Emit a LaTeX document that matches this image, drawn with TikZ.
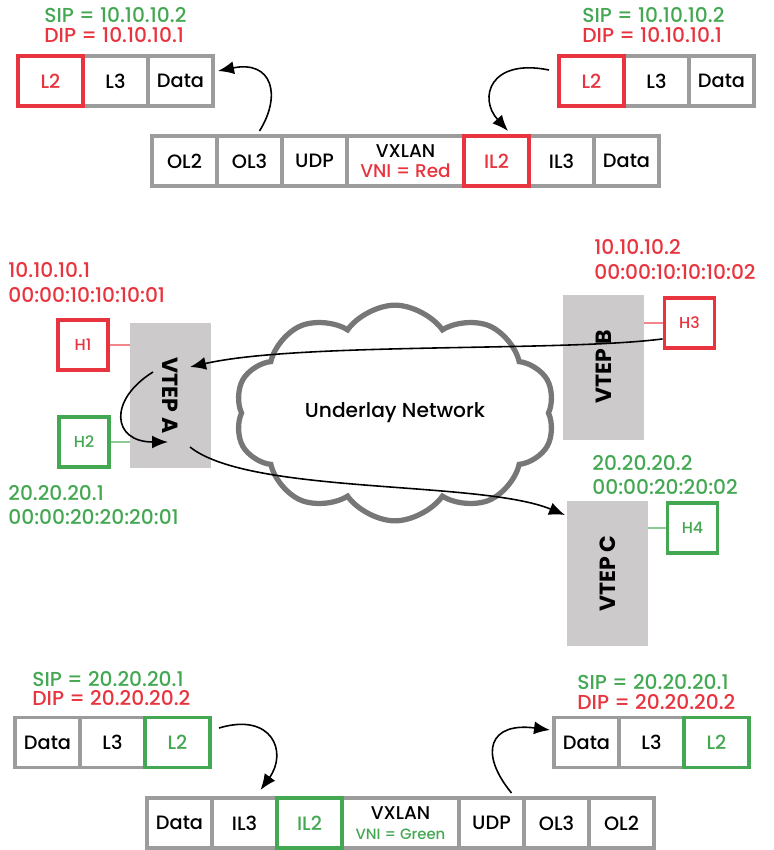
\documentclass[tikz,border=0pt]{standalone}
\usepackage{fontspec}
\setmainfont{Poppins}[UprightFont=* Medium, BoldFont=* Bold]
\usetikzlibrary{positioning,arrows.meta,shapes.symbols}

\definecolor{vxred}{HTML}{E8343E}
\definecolor{vxgreen}{HTML}{44A853}
\definecolor{cellgray}{HTML}{9C9C9C}
\definecolor{vtepgray}{HTML}{CCCACB}
\definecolor{cloudgray}{HTML}{777777}

\tikzset{
  cell/.style={draw=cellgray, line width=1.9pt, fill=white, minimum width=1.3cm, minimum height=1cm,
    inner sep=0pt, outer sep=0pt, font=\fontsize{11}{12}\selectfont},
  vxcell/.style={cell, minimum width=2.34cm, align=center, font=\fontsize{10.5}{10.5}\selectfont},
  redcell/.style={cell, draw=vxred, text=vxred},
  greencell/.style={cell, draw=vxgreen, text=vxgreen},
  host/.style={draw, line width=2.2pt, fill=white, minimum size=1cm, inner sep=0pt, font=\fontsize{9}{10}\selectfont},
  vtep/.style={fill=vtepgray, minimum width=2.9cm, minimum height=1.62cm, inner sep=0pt, font=\bfseries\fontsize{12.5}{14}\selectfont},
  addr/.style={anchor=west, inner sep=0pt, font=\fontsize{11.5}{12}\selectfont},
  hlink/.style={line width=1.3pt},
  flow/.style={-{Latex[length=3.2mm,width=2.6mm]}, line width=0.9pt},
}

\begin{document}
\begin{tikzpicture}[x=0.2mm,y=-0.2mm]
\useasboundingbox (0,0) rectangle (773,850);

% top left packet
\node[addr, text=vxgreen] (tlsip) at (44,15) {SIP = 10.10.10.2};
\node[addr, text=vxred] (tldip) at (44,35) {DIP = 10.10.10.1};
\node[cell] (tll3) at (115.5,81) {L3};
\node[cell, right=0pt of tll3] (tldata) {Data};
\node[redcell, left=0pt of tll3] (tll2) {L2};

% top right packet
\node[addr, text=vxgreen] (trsip) at (582,15) {SIP = 10.10.10.2};
\node[addr, text=vxred] (trdip) at (582,35) {DIP = 10.10.10.1};
\node[cell] (trl3) at (656.5,81) {L3};
\node[cell, right=0pt of trl3] (trdata) {Data};
\node[redcell, left=0pt of trl3] (trl2) {L2};

% top encapsulated packet
\node[cell] (tol2) at (184.5,161) {OL2};
\node[cell, right=0pt of tol2] (tol3) {OL3};
\node[cell, right=0pt of tol3] (toudp) {UDP};
\node[vxcell, right=0pt of toudp] (tovx) {VXLAN\\[1pt]\textcolor{vxred}{VNI = Red}};
\node[cell, right=0pt of tovx] (til2) {IL2};
\node[cell, right=0pt of til2] (til3) {IL3};
\node[cell, right=0pt of til3] (tidata) {Data};
\node[redcell] at (til2) (til2b) {IL2};

\draw[flow] ([xshift=2mm,yshift=1mm]tol3.north) .. controls (282,95) and (272,60) .. ([xshift=1mm,yshift=-3mm]tldata.north east);
\draw[flow] ([xshift=-2mm,yshift=2.2mm]trl2.west) .. controls (490,58) and (478,98) .. ([xshift=2.3mm,yshift=1mm]til2.north);

% underlay
\node[cloud, cloud puffs=10, cloud puff arc=110, aspect=1.5, draw=cloudgray, line width=3pt, fill=white,
  minimum width=6.4cm, minimum height=4.3cm, font=\fontsize{11.5}{13}\selectfont] (net) at (395,413) {Underlay Network};

% vteps
\node[vtep, rotate=-90] (vtepa) at (170.5,395.5) {VTEP A};
\node[vtep, rotate=90] (vtepb) at (603.5,367) {VTEP B};
\node[vtep, rotate=90] (vtepc) at (607.5,573.5) {VTEP C};

% hosts
\node[host, draw=vxred, text=vxred] (h1) at (83,345) {H1};
\node[host, draw=vxgreen, text=vxgreen] (h2) at (84,442) {H2};
\node[host, draw=vxred, text=vxred] (h3) at (689.5,323) {H3};
\node[host, draw=vxgreen, text=vxgreen] (h4) at (692.5,528) {H4};

\draw[hlink, vxred!60] (h1.east) -- (h1.east -| vtepa.south);
\draw[hlink, vxgreen!60] (h2.east) -- (h2.east -| vtepa.south);
\draw[hlink, vxred!60] (h3.west) -- (h3.west -| vtepb.south);
\draw[hlink, vxgreen!60] (h4.west) -- (h4.west -| vtepc.south);

\node[addr, text=vxred] (h1ip) at (8,270) {10.10.10.1};
\node[addr, text=vxred] (h1mac) at (8,295) {00:00:10:10:10:01};
\node[addr, text=vxgreen] (h2ip) at (8,493) {20.20.20.1};
\node[addr, text=vxgreen] (h2mac) at (8,517) {00:00:20:20:20:01};
\node[addr, text=vxred] (h3ip) at (594,247) {10.10.10.2};
\node[addr, text=vxred] (h3mac) at (594,272) {00:00:10:10:10:02};
\node[addr, text=vxgreen] (h4ip) at (592,463) {20.20.20.2};
\node[addr, text=vxgreen] (h4mac) at (592,487) {00:00:20:20:02};

\draw[flow] ([yshift=2.2mm]h3.south west) .. controls (560,352) and (300,342) .. ([xshift=3.9mm,yshift=5.7mm]vtepa.center);
\draw[flow] ([xshift=-3.5mm,yshift=4.7mm]vtepa.center) .. controls (108,400) and (112,442) .. ([xshift=-0.5mm,yshift=-9.3mm]vtepa.center);
\draw[flow] ([xshift=3.9mm,yshift=-10.3mm]vtepa.center) .. controls (250,495) and (480,480) .. ([xshift=-8.5mm,yshift=11.7mm]vtepc.center);

% bottom left packet
\node[addr, text=vxgreen] (blsip) at (32,679) {SIP = 20.20.20.1};
\node[addr, text=vxred] (bldip) at (32,698) {DIP = 20.20.20.2};
\node[cell] (bldata) at (47.5,742.5) {Data};
\node[cell, right=0pt of bldata] (bll3) {L3};
\node[greencell, right=0pt of bll3] (bll2) {L2};

% bottom right packet
\node[addr, text=vxgreen] (brsip) at (577,682) {SIP = 20.20.20.1};
\node[addr, text=vxred] (brdip) at (577,702) {DIP = 20.20.20.2};
\node[cell] (brdata) at (586.5,742.5) {Data};
\node[cell, right=0pt of brdata] (brl3) {L3};
\node[greencell, right=0pt of brl3] (brl2) {L2};

% bottom encapsulated packet
\node[cell] (bmdata) at (179.5,823) {Data};
\node[cell, right=0pt of bmdata] (bmil3) {IL3};
\node[cell, right=0pt of bmil3] (bmil2) {IL2};
\node[vxcell, right=0pt of bmil2] (bmvx) {VXLAN\\[1pt]\textcolor{vxgreen}{\fontsize{8.5}{9}\selectfont VNI = Green}};
\node[cell, right=0pt of bmvx] (bmudp) {UDP};
\node[cell, right=0pt of bmudp] (bmol3) {OL3};
\node[cell, right=0pt of bmol3] (bmol2) {OL2};
\node[greencell] at (bmil2) (bmil2b) {IL2};

\draw[flow] ([xshift=1.8mm,yshift=2.9mm]bll2.east) .. controls (272,712) and (288,752) .. ([xshift=3.2mm,yshift=1.6mm]bmil3.north);
\draw[flow] ([xshift=4mm,yshift=1mm]bmudp.north) .. controls (478,752) and (490,722) .. ([xshift=-0.8mm,yshift=2.5mm]brdata.west);
\end{tikzpicture}
\end{document}
